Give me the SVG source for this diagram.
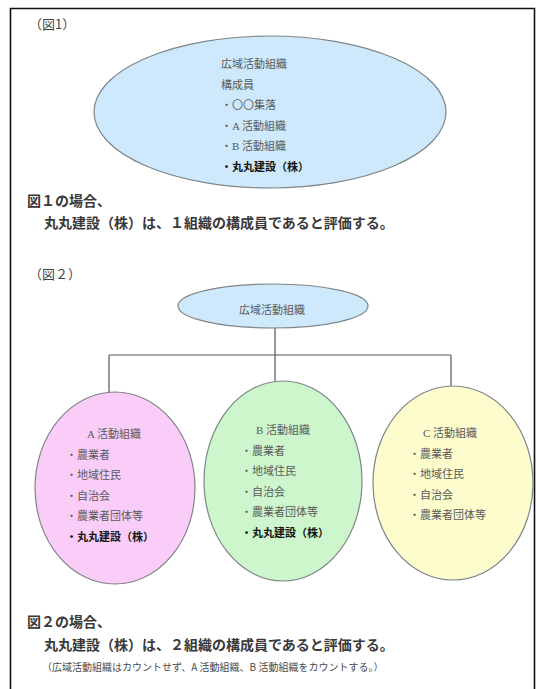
<svg xmlns="http://www.w3.org/2000/svg" width="536" height="689" viewBox="0 0 536 689">
<style>
.body{font-family:"Noto Sans CJK JP","Liberation Sans",sans-serif;fill:#3a3a3a;font-size:14px;font-weight:bold;}
.cap{font-family:"Noto Sans CJK JP","Liberation Sans",sans-serif;fill:#444;font-size:13px;}
.note{font-family:"Noto Sans CJK JP","Liberation Sans",sans-serif;fill:#4a4a4a;font-size:10px;}
.in{font-family:"Liberation Serif","Noto Sans CJK JP",serif;fill:#5a5a5a;font-size:11px;}
.in .b{font-weight:bold;fill:#151515;}
.el{stroke:#7f8589;stroke-width:1.2;}
.blue{fill:#cde9fb;}
.pink{fill:#f9cdf8;}
.green{fill:#cdf6cd;}
.yellow{fill:#fcfccd;}
.conn{stroke:#555;stroke-width:1.2;fill:none;}
</style>
<rect x="0" y="0" width="536" height="689" fill="#fff"/>
<path d="M10.5 689 V8.5 H534.5 V689" fill="none" stroke="#111" stroke-width="1.6"/>

<text class="cap" x="29" y="29">（図1）</text>

<g id="fig1-node">
<ellipse class="el blue" cx="270" cy="112" rx="176" ry="76"/>
<text class="in" x="221" y="68">広域活動組織</text>
<text class="in" x="221" y="88.5">構成員</text>
<text class="in" x="221" y="109">・〇〇集落</text>
<text class="in" x="221" y="129.5">・A 活動組織</text>
<text class="in" x="221" y="150">・B 活動組織</text>
<text class="in" x="221" y="170.5"><tspan class="b">・丸丸建設（株）</tspan></text>
</g>

<text class="body" x="27" y="206">図１の場合、</text>
<text class="body" x="44" y="228">丸丸建設（株）は、１組織の構成員であると評価する。</text>

<text class="cap" x="29" y="279">（図２）</text>

<g id="connectors">
<path class="conn" d="M275 328 V355"/>
<path class="conn" d="M109 355 H451"/>
<path class="conn" d="M109 355 V392"/>
<path class="conn" d="M275 355 V381"/>
<path class="conn" d="M451 355 V386"/>
</g>

<g id="fig2-top">
<ellipse class="el blue" cx="273" cy="306" rx="95" ry="22"/>
<text class="in" x="272" y="314" text-anchor="middle">広域活動組織</text>
</g>

<g id="fig2-A">
<ellipse class="el pink" cx="115" cy="488" rx="80" ry="96"/>
<text class="in" x="114" y="438" text-anchor="middle">A 活動組織</text>
<text class="in" x="66" y="458.5">・農業者</text>
<text class="in" x="66" y="479">・地域住民</text>
<text class="in" x="66" y="499.5">・自治会</text>
<text class="in" x="66" y="520">・農業者団体等</text>
<text class="in" x="66" y="540.5"><tspan class="b">・丸丸建設（株）</tspan></text>
</g>

<g id="fig2-B">
<ellipse class="el green" cx="283" cy="481" rx="79" ry="100"/>
<text class="in" x="283" y="434" text-anchor="middle">B 活動組織</text>
<text class="in" x="241" y="454.5">・農業者</text>
<text class="in" x="241" y="475">・地域住民</text>
<text class="in" x="241" y="495.5">・自治会</text>
<text class="in" x="241" y="516">・農業者団体等</text>
<text class="in" x="241" y="536.5"><tspan class="b">・丸丸建設（株）</tspan></text>
</g>

<g id="fig2-C">
<ellipse class="el yellow" cx="453" cy="483" rx="80" ry="97"/>
<text class="in" x="450" y="437" text-anchor="middle">C 活動組織</text>
<text class="in" x="409" y="457.5">・農業者</text>
<text class="in" x="409" y="478">・地域住民</text>
<text class="in" x="409" y="498.5">・自治会</text>
<text class="in" x="409" y="519">・農業者団体等</text>
</g>

<text class="body" x="27" y="627">図２の場合、</text>
<text class="body" x="44" y="650">丸丸建設（株）は、２組織の構成員であると評価する。</text>
<text class="note" x="42" y="671">（広域活動組織はカウントせず、A 活動組織、B 活動組織をカウントする。）</text>
</svg>
